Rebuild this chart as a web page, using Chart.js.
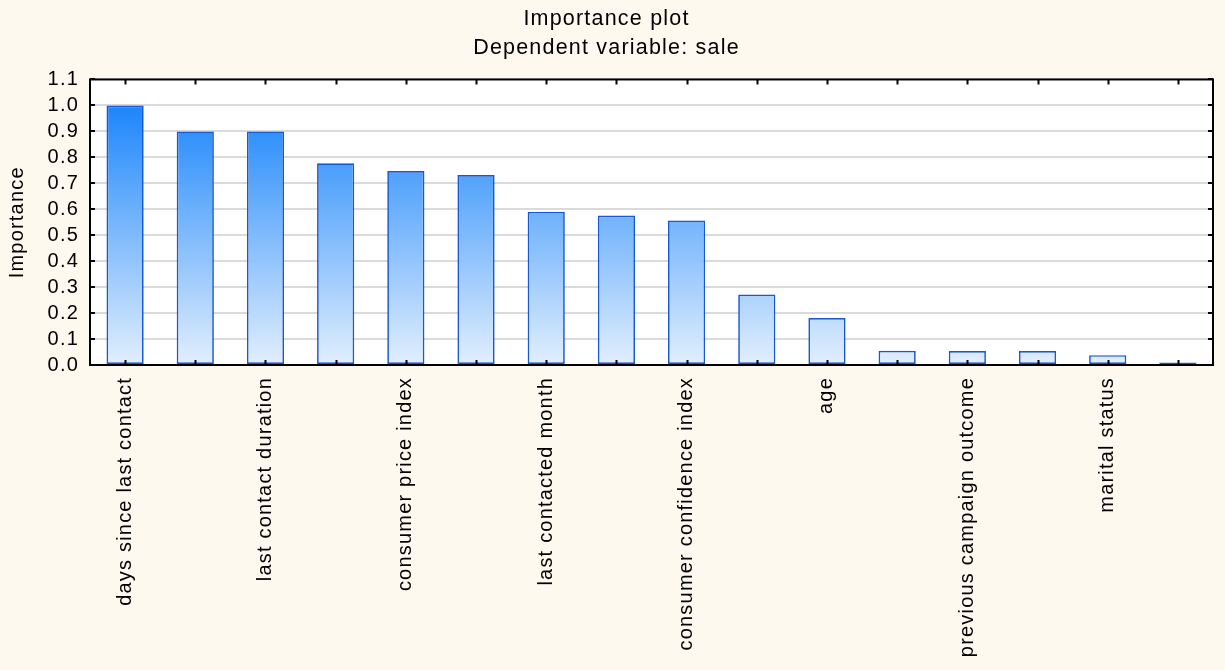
<!DOCTYPE html>
<html>
<head>
<meta charset="utf-8">
<title>Importance plot</title>
<script src="https://cdn.jsdelivr.net/npm/chart.js@4.4.1/dist/chart.umd.min.js"></script>
<style>
  html, body { margin: 0; padding: 0; background: #fef9ef; }
  #wrap { width: 1225px; height: 670px; }
  canvas { display: block; }
</style>
</head>
<body>
<div id="wrap"><canvas id="chart" width="1225" height="670"></canvas></div>
<script>
// Predictors, ordered by importance; only every other one carries a visible label
const categories = [
  'days since last contact', '',
  'last contact duration', '',
  'consumer price index', '',
  'last contacted month', '',
  'consumer confidence index', '',
  'age', '',
  'previous campaign outcome', '',
  'marital status', ''
];

// Relative importance of each predictor
const importance = [
  1.000, 0.900, 0.900, 0.777, 0.747, 0.732, 0.590, 0.576,
  0.557, 0.272, 0.181, 0.055, 0.054, 0.054, 0.038, 0.010
];

// Y axis range and step
const yMin = 0.0;
const yMax = 1.1;
const yStep = 0.1;

const titleLines = ['Importance plot', 'Dependent variable: sale'];
const yTitle = 'Importance';

const FONT = "'Liberation Sans', Arial, Helvetica, sans-serif";
const LETTER_SPACING = '1.2px';

// Slightly widened lettering used for every piece of text
const spacingPlugin = {
  id: 'spacing',
  beforeUpdate(chart) { chart.ctx.letterSpacing = LETTER_SPACING; },
  beforeLayout(chart) { chart.ctx.letterSpacing = LETTER_SPACING; },
  beforeDraw(chart) { chart.ctx.letterSpacing = LETTER_SPACING; }
};

// Cream page with a white plotting area
const backdropPlugin = {
  id: 'backdrop',
  beforeDraw(chart) {
    const { ctx, chartArea: a } = chart;
    ctx.save();
    ctx.fillStyle = '#fef9ef';
    ctx.fillRect(0, 0, chart.width, chart.height);
    ctx.fillStyle = '#ffffff';
    ctx.fillRect(a.left, a.top, a.right - a.left, a.bottom - a.top);
    ctx.restore();
  }
};

// Black frame around the plot with inward tick marks on all four sides
const framePlugin = {
  id: 'frame',
  afterDatasetsDraw(chart) {
    const { ctx, chartArea: a, scales } = chart;
    const x = scales.x, y = scales.y;
    const len = 5;
    ctx.save();
    ctx.strokeStyle = '#000000';
    ctx.lineWidth = 2;
    ctx.beginPath();
    x.ticks.forEach((t, i) => {
      const px = Math.round(x.getPixelForTick(i)) + 0.5;
      ctx.moveTo(px, a.bottom); ctx.lineTo(px, a.bottom - len);
      ctx.moveTo(px, a.top); ctx.lineTo(px, a.top + len);
    });
    y.ticks.forEach((t, i) => {
      const py = Math.round(y.getPixelForTick(i));
      ctx.moveTo(a.left, py); ctx.lineTo(a.left + len, py);
      ctx.moveTo(a.right, py); ctx.lineTo(a.right - len, py);
    });
    ctx.stroke();
    ctx.strokeRect(a.left, a.top, a.right - a.left, a.bottom - a.top);
    ctx.restore();
  }
};

// Vertical blue fade tied to the value axis: light near zero, deep blue near one
function barFill(context) {
  const chart = context.chart;
  const { ctx, chartArea, scales } = chart;
  if (!chartArea) return '#6cb4fc';
  const y0 = scales.y.getPixelForValue(0);
  const y1 = scales.y.getPixelForValue(1);
  const g = ctx.createLinearGradient(0, y0, 0, y1);
  g.addColorStop(0, 'rgb(226,239,253)');
  g.addColorStop(1, 'rgb(28,134,251)');
  return g;
}

new Chart(document.getElementById('chart'), {
  type: 'bar',
  data: {
    labels: categories,
    datasets: [{
      data: importance,
      backgroundColor: barFill,
      borderColor: '#1858d2',
      borderWidth: 1.7,
      borderSkipped: false,
      barPercentage: 0.53,
      categoryPercentage: 1.0
    }]
  },
  options: {
    responsive: false,
    animation: false,
    devicePixelRatio: 1,
    layout: { padding: { left: 0, right: 12, top: 0, bottom: 0 } },
    plugins: {
      legend: { display: false },
      tooltip: { enabled: false },
      title: {
        display: true,
        text: titleLines,
        color: '#000000',
        font: { family: FONT, size: 21.5, weight: 'normal', lineHeight: 1.36 },
        padding: { top: 4, bottom: 17 }
      }
    },
    scales: {
      x: {
        type: 'category',
        grid: { display: false, drawTicks: false },
        border: { display: false },
        ticks: {
          autoSkip: false,
          minRotation: 90,
          maxRotation: 90,
          padding: 12,
          color: '#000000',
          font: { family: FONT, size: 20 }
        },
        afterFit(scale) { scale.height = 305; }
      },
      y: {
        min: yMin,
        max: yMax,
        grid: { color: '#dadada', lineWidth: 2, drawTicks: false },
        border: { display: false },
        ticks: {
          stepSize: yStep,
          autoSkip: false,
          padding: 11,
          color: '#000000',
          font: { family: FONT, size: 20, lineHeight: 1.0 },
          callback: (v) => Number(v).toFixed(1)
        },
        title: {
          display: true,
          text: yTitle,
          color: '#000000',
          font: { family: FONT, size: 20 },
          padding: { top: 5, bottom: 0 }
        },
        afterFit(scale) { scale.width = 90; }
      }
    }
  },
  plugins: [spacingPlugin, backdropPlugin, framePlugin]
});
</script>
</body>
</html>
